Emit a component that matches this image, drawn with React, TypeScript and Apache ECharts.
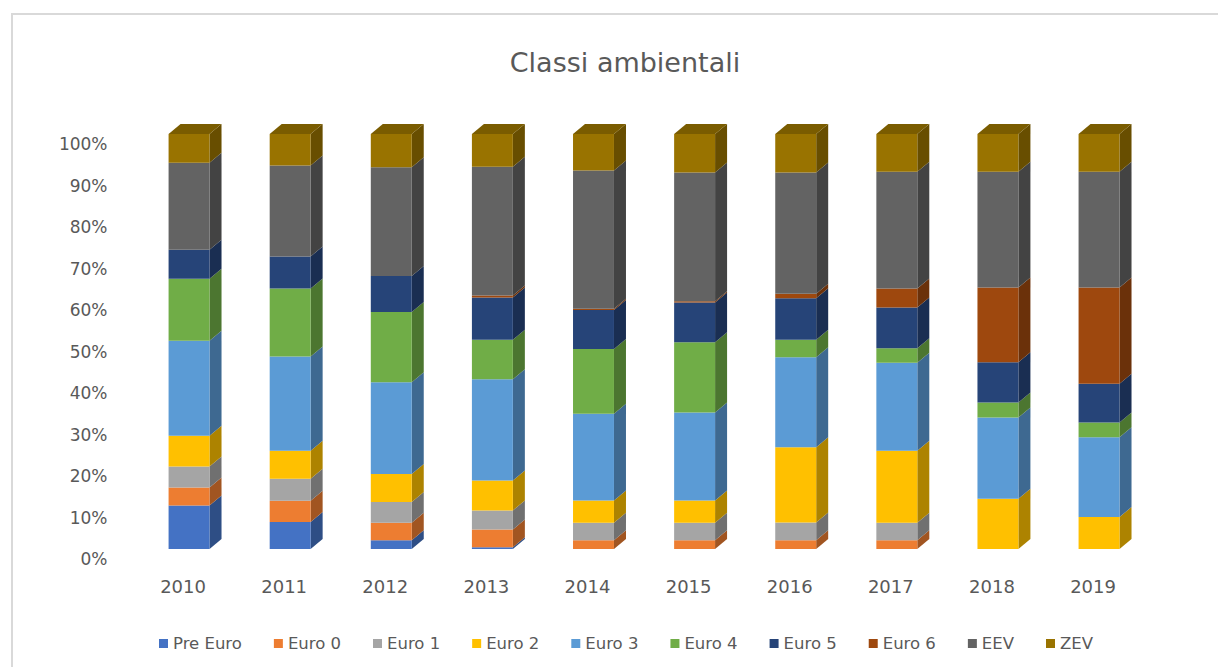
import React, { useEffect, useRef } from "react";
import * as echarts from "echarts";

const years = ["2010", "2011", "2012", "2013", "2014", "2015", "2016", "2017", "2018", "2019"];
const seriesNames = ["Pre Euro", "Euro 0", "Euro 1", "Euro 2", "Euro 3", "Euro 4", "Euro 5", "Euro 6", "EEV", "ZEV"];
const colors = ["#4472C4", "#ED7D31", "#A5A5A5", "#FFC000", "#5B9BD5", "#70AD47", "#264478", "#9E480E", "#636363", "#997300"];

// shares in percent, per year
const preEuro = [10.5, 6.5, 2.1, 0.4, 0, 0, 0, 0, 0, 0];
const euro0 = [4.3, 5.1, 4.2, 4.3, 2.1, 2.1, 2.1, 2.1, 0, 0];
const euro1 = [5.1, 5.3, 5.0, 4.6, 4.2, 4.2, 4.3, 4.2, 0, 0];
const euro2 = [7.4, 6.8, 6.8, 7.2, 5.4, 5.4, 18.1, 17.4, 12.1, 7.7];
const euro3 = [22.9, 22.7, 22.1, 24.4, 20.9, 21.2, 21.7, 21.2, 19.6, 19.2];
const euro4 = [14.9, 16.4, 16.9, 9.5, 15.6, 16.9, 4.2, 3.5, 3.6, 3.6];
const euro5 = [7.0, 7.7, 8.7, 10.2, 9.4, 9.6, 10.0, 9.8, 9.7, 9.3];
const euro6 = [0, 0, 0, 0.5, 0.3, 0.3, 1.1, 4.6, 18.0, 23.2];
const eev = [21.0, 21.9, 26.2, 31.0, 33.3, 31.0, 29.2, 28.1, 27.9, 27.9];
const zev = [6.9, 7.6, 8.0, 7.9, 8.8, 9.3, 9.3, 9.1, 9.1, 9.1];

const allSeries = [preEuro, euro0, euro1, euro2, euro3, euro4, euro5, euro6, eev, zev];
const yTicks = [0, 10, 20, 30, 40, 50, 60, 70, 80, 90, 100];

const FONT = "DejaVu Sans";
const TEXT = "#595959";
const DX = 12;
const DY = 10;

function shade(hex: string, f: number) {
  const n = parseInt(hex.slice(1), 16);
  const r = Math.round(((n >> 16) & 255) * f);
  const g = Math.round(((n >> 8) & 255) * f);
  const b = Math.round((n & 255) * f);
  return "rgb(" + r + "," + g + "," + b + ")";
}

export default function App() {
  const ref = useRef<HTMLDivElement>(null);
  useEffect(() => {
    if (!ref.current) return;
    const chart = echarts.init(ref.current, undefined, { renderer: "svg" });

    const totals = years.map((_, i) => allSeries.reduce((a, s) => a + s[i], 0));
    const cum = years.map(() => 0);
    const series: any[] = allSeries.map((vals, si) => {
      const data = years.map((_, i) => {
        const start = (cum[i] / totals[i]) * 100;
        cum[i] += vals[i];
        const end = (cum[i] / totals[i]) * 100;
        return [i, start, end];
      });
      const color = colors[si];
      const isTop = si === allSeries.length - 1;
      return {
        type: "custom",
        name: seriesNames[si],
        itemStyle: { color },
        encode: { x: 0, y: 2 },
        data,
        renderItem: (params: any, api: any) => {
          const cat = api.value(0);
          const s = api.value(1);
          const e = api.value(2);
          if (e - s <= 0.001) return null;
          const pS = api.coord([cat, s]);
          const pE = api.coord([cat, e]);
          const bw = api.size([1, 0])[0] * 0.405;
          const x0 = pS[0] - bw / 2;
          const x1 = x0 + bw;
          const yb = pS[1];
          const yt = pE[1];
          const children: any[] = [
            {
              type: "polygon",
              shape: { points: [[x1, yb], [x1, yt], [x1 + DX, yt - DY], [x1 + DX, yb - DY]] },
              style: { fill: shade(color, 0.68), stroke: null },
            },
            {
              type: "rect",
              shape: { x: x0, y: yt, width: bw, height: yb - yt },
              style: { fill: color, stroke: null },
            },
          ];
          if (isTop) {
            children.push({
              type: "polygon",
              shape: { points: [[x0, yt], [x1, yt], [x1 + DX, yt - DY], [x0 + DX, yt - DY]] },
              style: { fill: shade(color, 0.8), stroke: null },
            });
          }
          return { type: "group", children };
        },
      };
    });

    chart.setOption({
      animation: false,
      backgroundColor: "#ffffff",
      textStyle: { fontFamily: FONT },
      title: {
        text: "Classi ambientali",
        left: 620,
        top: 44,
        textAlign: "center",
        textStyle: { fontFamily: FONT, fontSize: 27, fontWeight: "normal", color: TEXT },
      },
      graphic: [
        {
          type: "rect",
          shape: { x: 12, y: 14, width: 1230, height: 680 },
          style: { fill: "none", stroke: "#D9D9D9", lineWidth: 2 },
          silent: true,
        },
      ],
      legend: {
        left: 154,
        top: 630,
        icon: "rect",
        itemWidth: 9,
        itemHeight: 9,
        itemGap: 32,
        textStyle: { fontFamily: FONT, fontSize: 16.5, color: TEXT },
        data: seriesNames,
      },
      grid: { left: 138.5, right: 68.4, top: 134, bottom: 118, containLabel: false },
      xAxis: {
        type: "category",
        data: years,
        axisLine: { show: false },
        axisTick: { show: false },
        axisLabel: {
          margin: 28,
          fontFamily: FONT,
          fontSize: 18,
          color: TEXT,
          padding: [0, 12, 0, 0],
        },
      },
      yAxis: {
        type: "value",
        min: yTicks[0],
        max: yTicks[yTicks.length - 1],
        interval: 10,
        splitLine: { show: false },
        axisLine: { show: false },
        axisTick: { show: false },
        axisLabel: {
          margin: 31,
          fontFamily: FONT,
          fontSize: 17,
          color: TEXT,
          verticalAlign: "top",
          lineHeight: 20,
          formatter: "{value}%",
        },
      },
      series,
    });
    return () => chart.dispose();
  }, []);
  return (
    <div
      ref={ref}
      style={{ position: "absolute", left: 0, top: 0, width: 1218, height: 667, background: "#fff" }}
    />
  );
}
